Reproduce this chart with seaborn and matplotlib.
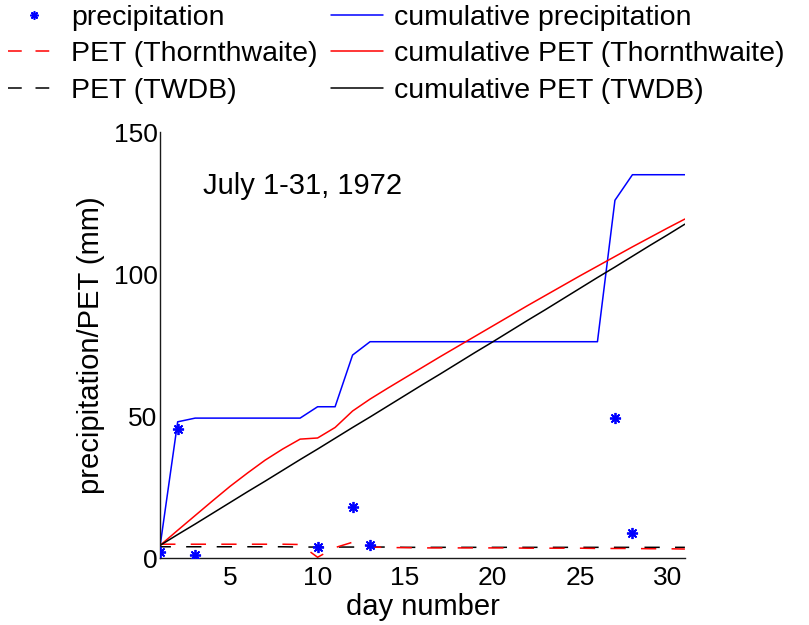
import numpy as np
import pandas as pd
import matplotlib
matplotlib.use("Agg")
import matplotlib.pyplot as plt
from matplotlib.lines import Line2D
import seaborn as sns

# ---------------- data ----------------
days = list(range(1, 32))

precip_days = [1, 2, 3, 10, 12, 13, 27, 28]
precip_vals = [2.1, 45.4, 1.1, 3.9, 18.0, 4.6, 49.3, 8.8]

cum_precip = [4.5, 48.0, 49.3, 49.3, 49.3, 49.3, 49.3, 49.3, 49.3, 53.3,
              53.3, 71.5, 76.2, 76.2, 76.2, 76.2, 76.2, 76.2, 76.2, 76.2,
              76.2, 76.2, 76.2, 76.2, 76.2, 76.2, 126.0, 135.0, 135.0, 135.0,
              135.0]

pet_thorn = [4.9, 4.9, 4.9, 4.9, 4.9, 4.9, 4.9, 4.9, 4.8, 0.3,
             3.7, 5.6, 4.0, 3.7, 3.7, 3.6, 3.6, 3.6, 3.6, 3.6,
             3.6, 3.5, 3.5, 3.5, 3.5, 3.4, 3.4, 3.4, 3.3, 3.3, 3.2]

pet_twdb = [4.0, 4.0, 4.0, 4.0, 4.0, 4.0, 4.0, 4.0, 3.9, 3.9,
            3.9, 3.9, 3.9, 3.9, 3.8, 3.8, 3.8, 3.8, 3.8, 3.8,
            3.8, 3.8, 3.8, 3.8, 3.8, 3.8, 3.8, 3.8, 3.8, 3.8, 3.8]

cum_thorn = [4.5, 9.8, 15.0, 20.2, 25.3, 30.0, 34.5, 38.4, 41.9, 42.3,
             46.0, 51.8, 56.0, 59.8, 63.5, 67.2, 70.9, 74.5, 78.1, 81.7,
             85.3, 88.9, 92.4, 95.9, 99.4, 102.8, 106.2, 109.6, 112.9, 116.2,
             119.4]

cum_twdb = [4.5, 8.3, 12.0, 15.8, 19.6, 23.4, 27.1, 30.9, 34.7, 38.4,
            42.2, 46.0, 49.7, 53.5, 57.3, 61.1, 64.8, 68.6, 72.4, 76.1,
            79.9, 83.7, 87.4, 91.2, 95.0, 98.8, 102.5, 106.3, 110.1, 113.8,
            117.6]

labels = ["precipitation", "PET (Thornthwaite)", "PET (TWDB)",
          "cumulative precipitation", "cumulative PET (Thornthwaite)",
          "cumulative PET (TWDB)"]
annotation = "July 1-31, 1972"

# ---------------- style ----------------
sns.set_style("white")
plt.rcParams["font.family"] = ["Liberation Sans", "DejaVu Sans"]
plt.rcParams["text.color"] = "black"
plt.rcParams["axes.labelcolor"] = "black"
plt.rcParams["xtick.color"] = "black"
plt.rcParams["ytick.color"] = "black"

fig = plt.figure(figsize=(8.09, 6.25), dpi=100)
ax = fig.add_axes([0.198, 0.107, 0.6486, 0.6816])

BLUE = "#0000FF"
RED = "#FF0000"
BLACK = "#000000"
LW = 1.1
DASH = (0, (10, 10))
STAR = (8, 2, 0)

sns.lineplot(x=days, y=pet_twdb, color=BLACK, lw=LW, linestyle=(3, (10, 10)), ax=ax)
sns.lineplot(x=days, y=pet_thorn, color=RED, lw=LW, linestyle=DASH, ax=ax)
sns.lineplot(x=days, y=cum_precip, color=BLUE, lw=LW, ax=ax)
sns.lineplot(x=days, y=cum_thorn, color=RED, lw=LW, ax=ax)
sns.lineplot(x=days, y=cum_twdb, color=BLACK, lw=LW, ax=ax)
sns.lineplot(x=precip_days, y=precip_vals, color=BLUE, linestyle="",
             marker=STAR, markersize=8, markeredgewidth=1.3,
             markeredgecolor=BLUE, ax=ax, zorder=5)

ax.set_xlim(1, 31)
ax.set_ylim(0, 150)
ax.set_xticks([5, 10, 15, 20, 25, 30])
ax.set_yticks([0, 50, 100, 150])
ax.tick_params(direction="in", length=3.5, width=0.8, labelsize=19,
               colors="black")
ax.tick_params(axis="x", pad=6)
ax.tick_params(axis="y", pad=2)
for side in ["top", "right"]:
    ax.spines[side].set_visible(False)
for side in ["left", "bottom"]:
    ax.spines[side].set_color("#1a1a1a")
    ax.spines[side].set_linewidth(1.0)

ax.set_xlabel("day number", fontsize=21, labelpad=2)
ax.set_ylabel("precipitation/PET (mm)", fontsize=21, labelpad=6)
ax.text(3.45, 131, annotation, fontsize=21, ha="left", va="center")

handles = [
    Line2D([], [], color=BLUE, linestyle="", marker=STAR, markersize=6, markeredgewidth=1.2),
    Line2D([], [], color=RED, lw=LW, linestyle=(0, (9, 9))),
    Line2D([], [], color=BLACK, lw=LW, linestyle=(0, (9, 9))),
    Line2D([], [], color=BLUE, lw=LW),
    Line2D([], [], color=RED, lw=LW),
    Line2D([], [], color=BLACK, lw=LW),
]
fig.legend(handles, labels, ncol=2, loc="upper left",
           bbox_to_anchor=(0.010, 0.992), frameon=False, fontsize=20.5,
           handlelength=1.8, handletextpad=0.4, columnspacing=0.5,
           labelspacing=0.36, borderpad=0.0, borderaxespad=0.0)

fig.savefig("out.png", dpi=100)
